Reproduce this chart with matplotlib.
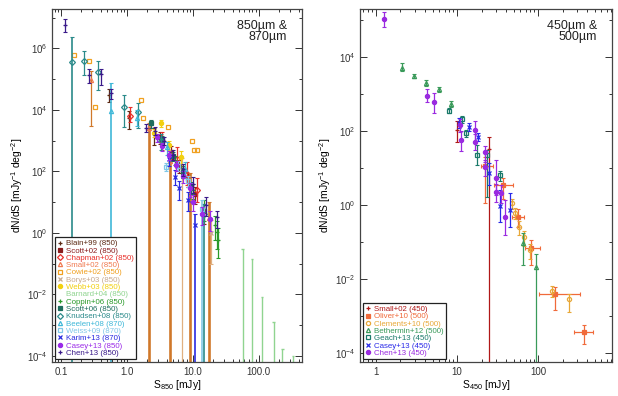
import numpy as np
import matplotlib
matplotlib.use('Agg')
import matplotlib.pyplot as plt
from matplotlib.lines import Line2D

plt.rcParams['font.family'] = ['Liberation Sans', 'DejaVu Sans']
plt.rcParams['mathtext.default'] = 'regular'

Z = 1e-8  # lower bound that reaches below the axis

# ---------------- 850 / 870 um counts ----------------
blain_s = [0.54, 1.08, 2.6]
blain_n = [3.0e4, 5.5e3, 1.6e3]
blain_lo = [1.8e4, 2.4e3, 7e2]
blain_hi = [4.6e4, 9e3, 2.6e3]

scott02_s = [3.2, 4.6, 6.2, 8.3, 10.9, 14.5]
scott02_n = [1.3e3, 4.2e2, 1.5e2, 55, 18, 5]
scott02_lo = [8e2, 2.5e2, 90, 30, 9, 2]
scott02_hi = [1.9e3, 6.5e2, 2.3e2, 90, 30, 9]

chapman_s = [1.12, 3.4, 5.8, 8.2, 11.5]
chapman_n = [6.4e3, 1.0e3, 2.5e2, 80, 25]
chapman_lo = [4e3, 5e2, 1.3e2, 35, 10]
chapman_hi = [1.2e4, 1.9e3, 6e2, 2e2, 60]

small_s = [0.285, 2.18, 4.5, 9.0, 17.6]
small_n = [9.7e4, 2.6e3, 2.1e2, 35, 3.0]
small_lo = [3.1e3, Z, Z, Z, Z]
small_hi = [1.9e5, 3.8e3, 3.9e2, 90, 10]

cowie_s = [0.16, 0.27, 0.33, 1.65, 1.73, 4.23, 9.6, 10.4, 11.4]
cowie_n = [6e5, 3.8e5, 1.25e4, 2.1e4, 5.5e3, 2.7e3, 9.8e2, 5e2, 5e2]

borys_s = [6.75, 18.5]
borys_n = [1.1e2, 1.0]
borys_lo = [Z, 0.1]
borys_hi = [2.8e2, 2.6]

webb_s = [2.56, 3.27, 4.37, 6.5]
webb_n = [1.8e3, 3.7e3, 7.2e2, 3.0e2]
webb_lo = [1.3e3, 2.8e3, 5e2, 1.8e2]
webb_hi = [2.4e3, 4.6e3, 9.5e2, 4.5e2]

barnard_s = [56.5, 79, 111, 167, 228, 326]
barnard_hi = [0.3, 0.14, 8.5e-3, 1.25e-3, 1.66e-4, 1.0e-4]

coppin_s = [5.3, 7.0, 10.0, 14.5, 21.5, 22.8, 24.1]
coppin_n = [2.35e2, 1.0e2, 25, 6, 1.8, 1.1, 0.6]
coppin_lo = [1.6e2, 60, 13, 2.5, 0.6, 0.3, 0.15]
coppin_hi = [3.2e2, 1.5e2, 40, 12, 3.5, 2.5, 1.4]

scott06_s = [2.29, 3.4, 5.0, 7.0, 9.5]
scott06_n = [3.7e3, 1.1e3, 3.2e2, 95, 30]
scott06_lo = [2.6e3, 8e2, 2.2e2, 60, 18]
scott06_hi = [4.8e3, 1.4e3, 4.3e2, 1.3e2, 45]

knudsen_s = [0.147, 0.223, 0.364, 0.90, 1.47, 3.3, 14.7]
knudsen_n = [3.6e5, 3.8e5, 1.7e5, 1.2e4, 8.6e3, 1.0e3, 4]
knudsen_lo = [Z, 1.4e5, 4.3e4, 2.8e3, 2.5e3, 5e2, Z]
knudsen_hi = [2.4e6, 8.5e5, 4e5, 3.0e4, 1.7e4, 1.6e3, 9]

beelen_s = [0.566, 1.4, 4.0, 7.5]
beelen_n = [9.5e3, 5.6e3, 6e2, 1.2e2]
beelen_lo = [Z, 3e3, 3.5e2, 60]
beelen_hi = [7.6e4, 1.0e4, 9e2, 2e2]

weiss_s = [3.9, 6.0, 8.5, 13.5]
weiss_n = [1.4e2, 1.5e2, 50, 6]
weiss_lo = [1e2, 1e2, 32, Z]
weiss_hi = [1.9e2, 2.1e2, 70, 12]

karim_s = [4.4, 5.3, 6.2, 8.3, 10.7]
karim_n = [2.5e2, 68, 28, 12, 1.8]
karim_lo = [1.5e2, 35, 12, 5, Z]
karim_hi = [3.6e2, 1.1e2, 50, 22, 4]

casey_s = [2.9, 3.4, 4.4, 5.6, 7.2, 9.0, 10.1, 13.5, 18.1]
casey_n = [1.3e3, 6.5e2, 3.4e2, 1.6e2, 70, 28, 10.5, 4, 2.8]
casey_lo = [9e2, 4.5e2, 2.3e2, 1e2, 42, 15, 5, 1.8, 1.2]
casey_hi = [1.7e3, 8.5e2, 4.5e2, 2.2e2, 1e2, 42, 17, 7, 5]

chen_s = [0.114, 0.263, 0.40, 0.58, 1.92, 2.7, 3.6, 5.0, 7.0, 10.0, 15.7, 22.8]
chen_n = [5.6e6, 1.35e5, 1.5e5, 3.6e4, 2.6e3, 2.1e3, 1.0e3, 3.5e2, 1.2e2, 40, 8.1, 3.2]
chen_lo = [3.5e6, 7.6e4, 6.6e4, 2.2e4, 1.9e3, 1.5e3, 7e2, 2.3e2, 70, 20, 3.5, 1.4]
chen_hi = [9.3e6, 2.1e5, 2.2e5, 4.7e4, 3.4e3, 2.8e3, 1.3e3, 4.8e2, 1.8e2, 65, 15, 5]

# ---------------- 450 / 500 um counts ----------------
small450_s = [10.1, 25.0]
small450_n = [105, 32]
small450_lo = [52, Z]
small450_hi = [182, 70]

oliver_s = [22.2, 36.6, 56, 82.5, 162, 364]
oliver_n = [11.3, 3.5, 0.465, 0.068, 3.9e-3, 3.8e-4]
oliver_lo = [1.13, 1.5, 0.25, 0.024, 1.45e-3, 1.8e-4]
oliver_hi = [20, 5.5, 0.8, 0.11, 6.2e-3, 5.7e-4]
oliver_slo = [19.6, 28.6, 47, 69, 101, 278]
oliver_shi = [28, 49.5, 67, 106, 330, 480]

clements_s = [47.2, 52, 58.8, 67, 79.5, 147, 243]
clements_n = [1.1, 0.62, 0.26, 0.14, 0.061, 4.8e-3, 2.8e-3]
clements_lo = [0.8, 0.42, 0.15, 0.08, 0.035, 3.2e-3, 1.26e-3]
clements_hi = [1.5, 0.85, 0.38, 0.2, 0.09, 6.5e-3, 3.9e-3]

bethermin_s = [2.09, 2.97, 4.17, 6.0, 8.36, 65.6, 93]
bethermin_n = [5e3, 3.1e3, 2.0e3, 1.34e3, 537, 0.092, 0.021]
bethermin_lo = [4.1e3, 2.7e3, 1.7e3, 1.15e3, 450, 0.024, Z]
bethermin_hi = [6.9e3, 3.6e3, 2.4e3, 1.55e3, 640, 0.175, 0.046]

geach_s = [8.05, 11.4, 12.9, 17.8, 23.3, 33.4]
geach_n = [355, 208, 87, 23, 22.5, 6.5]
geach_lo = [300, 170, 68, 12.3, 1.7, 4.5]
geach_hi = [420, 250, 110, 41, 30, 8.5]

casey450_s = [10.6, 14.0, 18.3, 25, 33.4, 44.6]
casey450_n = [165, 130, 69, 7.2, 0.96, 0.73]
casey450_lo = [120, 100, 55, 3.5, 0.35, 0.25]
casey450_hi = [220, 165, 88, 14, 2.5, 2.07]

chen450_s = [1.26, 4.23, 5.2, 11.0, 11.2, 16.4, 16.8, 22.3, 22.3, 30.3, 30.3, 34.6, 39.4]
chen450_n = [1.07e5, 890, 600, 147, 58, 52, 104, 26.5, 10.9, 5.3, 2.2, 2.07, 0.47]
chen450_lo = [6.5e4, 600, 300, 95, 29, 30, 52, 15, 6, 1.9, 1.2, 1.1, 0.155]
chen450_hi = [1.7e5, 1.37e3, 1.1e3, 210, 98, 85, 190, 40, 17, 16, 3.8, 3.5, 1.36]

left_series = [
    # s, n, lo, hi, marker, colour, filled, label, err colour, width of bars reaching the floor
    (blain_s, blain_n, blain_lo, blain_hi, '+', '#5c2a14', True, 'Blain+99 (850)', None, 0.9),
    (scott02_s, scott02_n, scott02_lo, scott02_hi, 's', '#8a1c1c', True, 'Scott+02 (850)', None, 0.9),
    (chapman_s, chapman_n, chapman_lo, chapman_hi, 'D', '#e8302a', False, 'Chapman+02 (850)', None, 0.9),
    (small_s, small_n, small_lo, small_hi, '^', '#f07a50', False, 'Small+02 (850)', '#d0782a', 1.9),
    (cowie_s, cowie_n, None, None, 's', '#f0a020', False, 'Cowie+02 (850)', None, 0.9),
    (borys_s, borys_n, borys_lo, borys_hi, 'x', '#c8aa90', True, 'Borys+03 (850)', '#e0b080', 0.9),
    (webb_s, webb_n, webb_lo, webb_hi, 'o', '#f2d010', True, 'Webb+03 (850)', None, 0.9),
    (barnard_s, None, None, barnard_hi, '', '#90d490', True, 'Barnard+04 (850)', None, 1.0),
    (coppin_s, coppin_n, coppin_lo, coppin_hi, '+', '#2a9a2a', True, 'Coppin+06 (850)', None, 0.9),
    (scott06_s, scott06_n, scott06_lo, scott06_hi, 's', '#1e6e5e', True, 'Scott+06 (850)', None, 0.9),
    (knudsen_s, knudsen_n, knudsen_lo, knudsen_hi, 'D', '#2a8a8a', False, 'Knudsen+08 (850)', None, 1.2),
    (beelen_s, beelen_n, beelen_lo, beelen_hi, '^', '#40b8d8', False, 'Beelen+08 (870)', None, 1.2),
    (weiss_s, weiss_n, weiss_lo, weiss_hi, 's', '#80c8e8', False, 'Weiss+09 (870)', None, 1.2),
    (karim_s, karim_n, karim_lo, karim_hi, 'x', '#2a2ae0', True, 'Karim+13 (870)', None, 1.2),
    (casey_s, casey_n, casey_lo, casey_hi, 'o', '#9a2ae8', True, 'Casey+13 (850)', None, 0.9),
    (chen_s, chen_n, chen_lo, chen_hi, '+', '#3a1a8a', True, 'Chen+13 (850)', None, 0.9),
]

right_series = [
    (small450_s, small450_n, small450_lo, small450_hi, '+', '#b01818', True, 'Small+02 (450)', None, 0.9),
    (oliver_s, oliver_n, oliver_lo, oliver_hi, 's', '#f06a3a', True, 'Oliver+10 (500)', None, 0.9),
    (clements_s, clements_n, clements_lo, clements_hi, 'o', '#e8a838', False, 'Clements+10 (500)', None, 0.9),
    (bethermin_s, bethermin_n, bethermin_lo, bethermin_hi, '^', '#3a9a5a', False, 'Bethermin+12 (500)', None, 0.9),
    (geach_s, geach_n, geach_lo, geach_hi, 's', '#1a7a6a', False, 'Geach+13 (450)', None, 0.9),
    (casey450_s, casey450_n, casey450_lo, casey450_hi, 'x', '#2a2ae8', True, 'Casey+13 (450)', None, 0.9),
    (chen450_s, chen450_n, chen450_lo, chen450_hi, 'o', '#9a2ae0', True, 'Chen+13 (450)', None, 0.9),
]

fig = plt.figure(figsize=(6.18, 3.96), dpi=100)
ax1 = fig.add_axes([0.0841, 0.0859, 0.4045, 0.8914])
ax2 = fig.add_axes([0.5825, 0.0859, 0.408, 0.8914])


def draw(ax, series, xerr=None):
    handles = []
    for s, n, lo, hi, mk, col, filled, lab, ecol, ew in series:
        s = np.array(s)
        ecol = ecol or col
        if n is None:
            # upper limits drawn down to the bottom
            hi = np.array(hi)
            ax.vlines(s, 1e-8, hi, color=col, lw=ew)
            ax.hlines(hi, s / 1.04, s * 1.04, color=col, lw=ew)
            handles.append(Line2D([], [], ls='none', marker=None, color=col))
            continue
        n = np.array(n)
        mfc = col if filled else 'none'
        ms = 3.4 if mk in ('+', 'x') else 3.0
        if lo is not None:
            lo = np.array(lo)
            hi = np.array(hi)
            xe = None
            if xerr is not None and lab in xerr:
                slo, shi = xerr[lab]
                xe = np.array([s - np.array(slo), np.array(shi) - s])
            floor = lo <= Z
            for m, w in ((~floor, 0.9), (floor, ew)):
                if not m.any():
                    continue
                ax.errorbar(s[m], n[m], yerr=[n[m] - lo[m], hi[m] - n[m]],
                            xerr=None if xe is None else xe[:, m], fmt='none',
                            ecolor=ecol, elinewidth=w, capsize=1.6, capthick=0.8)
        ax.plot(s, n, ls='none', marker=mk, ms=ms, mec=col, mfc=mfc, mew=0.9)
        handles.append(Line2D([], [], ls='none', marker=mk, ms=ms, mec=col,
                              mfc=mfc, mew=0.9))
    return handles


h1 = draw(ax1, left_series)
h2 = draw(ax2, right_series,
          xerr={'Oliver+10 (500)': (oliver_slo, oliver_shi)})

for ax, hs, ser in ((ax1, h1, left_series), (ax2, h2, right_series)):
    ax.set_xscale('log')
    ax.set_yscale('log')
    leg = ax.legend(hs, [t[7] for t in ser], loc='lower left', fontsize=5.7,
                    labelspacing=-0.03, handlelength=0.7, handletextpad=0.4,
                    borderpad=0.3, borderaxespad=0.35, fancybox=False,
                    framealpha=1, edgecolor='#222222')
    leg.get_frame().set_linewidth(0.9)
    for txt, t in zip(leg.get_texts(), ser):
        txt.set_color(t[5])
    ax.tick_params(which='both', direction='in', top=True, right=True,
                   labelsize=7, width=0.7, colors='#333333')
    ax.tick_params(which='major', length=5)
    ax.tick_params(which='minor', length=2.5)
    for sp in ax.spines.values():
        sp.set_linewidth(0.9)
        sp.set_color('#444444')

ax1.set_xlim(0.073, 450)
ax1.set_ylim(6.4e-5, 1.9e7)
ax1.set_xticks([0.1, 1, 10, 100], ['0.1', '1.0', '10.0', '100.0'])
ax1.set_yticks([1e-4, 1e-2, 1, 1e2, 1e4, 1e6],
               ['$10^{-4}$', '$10^{-2}$', '$10^{0}$', '$10^{2}$', '$10^{4}$', '$10^{6}$'])
ax1.set_yticks([1e-3, 1e-1, 1e1, 1e3, 1e5, 1e7], minor=True)
ax1.set_yticklabels([], minor=True)
ax1.set_xlabel('S$_{850}$ [mJy]', fontsize=7.5, labelpad=1)
ax1.set_ylabel('dN/dS [mJy$^{-1}$ deg$^{-2}$]', fontsize=7.5, labelpad=1)
ax1.text(0.94, 0.97, '850µm &\n870µm', transform=ax1.transAxes, ha='right',
         va='top', fontsize=9, linespacing=0.9, color='#222222')

ax2.set_xlim(0.634, 817)
ax2.set_ylim(5.7e-5, 2e5)
ax2.set_xticks([1, 10, 100], ['1', '10', '100'])
ax2.set_yticks([1e-4, 1e-2, 1, 1e2, 1e4],
               ['$10^{-4}$', '$10^{-2}$', '$10^{0}$', '$10^{2}$', '$10^{4}$'])
ax2.set_yticks([1e-3, 1e-1, 1e1, 1e3, 1e5], minor=True)
ax2.set_yticklabels([], minor=True)
ax2.set_xlabel('S$_{450}$ [mJy]', fontsize=7.5, labelpad=1)
ax2.set_ylabel('dN/dS [mJy$^{-1}$ deg$^{-2}$]', fontsize=7.5, labelpad=1)
ax2.text(0.94, 0.97, '450µm &\n500µm', transform=ax2.transAxes, ha='right',
         va='top', fontsize=9, linespacing=0.9, color='#222222')

fig.savefig('out.png', dpi=100)
